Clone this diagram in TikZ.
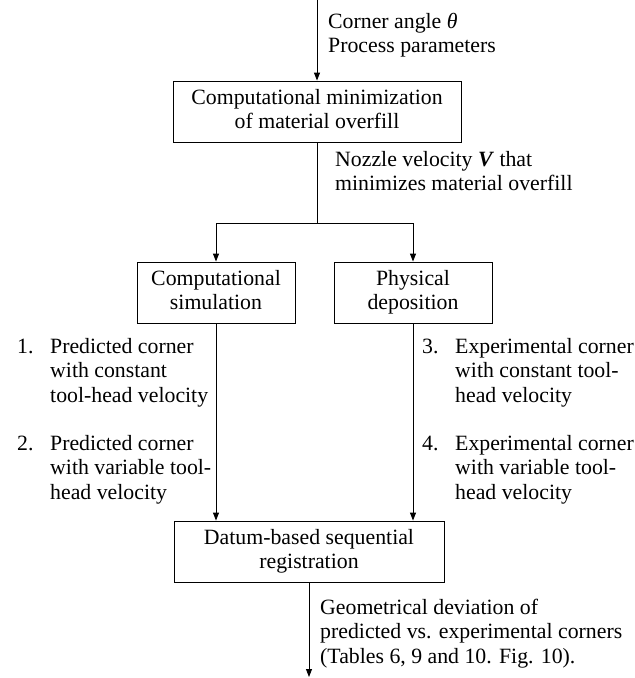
\documentclass[tikz,border=0pt]{standalone}
\usepackage{fontspec}
\setmainfont{Liberation Serif}
\usetikzlibrary{arrows.meta}
\begin{document}
\begin{tikzpicture}[x=1pt,y=-1pt,
  font=\fontsize{21.8}{24.8}\selectfont,
  box/.style={draw,line width=0.9pt,inner sep=0pt,align=center,minimum height=61pt},
  lbl/.style={anchor=base west,inner sep=0pt},
  arr/.style={line width=0.9pt,-{Triangle[length=8pt,width=6pt]}},
  ln/.style={line width=0.9pt}]
\useasboundingbox (0,0) rectangle (635,678);
% boxes
\node[box,minimum width=288pt] (b1) at (317,111.5) {\strut Computational minimization\\of material overfill\strut};
\node[box,minimum width=158pt] (b2) at (216,292.5) {\strut Computational\\simulation\strut};
\node[box,minimum width=158pt] (b3) at (413,292.5) {\strut Physical\\deposition\strut};
\node[box,minimum width=270pt] (b4) at (309,551.5) {\strut Datum-based sequential\\registration\strut};
% coordinates
\coordinate (top) at (317,0);
\coordinate (split) at (317,223);
\coordinate (out) at (309,677);
% connectors
\draw[arr] (top) -- (b1.north);
\draw[ln] (b1.south) -- (split);
\draw[arr] (split) -| (b2.north);
\draw[arr] (split) -| (b3.north);
\draw[arr] (b2.south) -- (b2.south |- b4.north);
\draw[arr] (b3.south) -- (b3.south |- b4.north);
\draw[arr] (b4.south) -- (out);
% labels
\node[lbl] (tin) at (328,28) {\begin{tabular}[t]{@{}l@{}}Corner angle \textit{θ}\\Process parameters\end{tabular}};
\node[lbl] (tnoz) at (335,166) {\begin{tabular}[t]{@{}l@{}}Nozzle velocity \textbf{\textit{V}} that\\minimizes material overfill\end{tabular}};
\node[lbl] (tout) at (320,614) {\begin{tabular}[t]{@{}l@{}}Geometrical deviation of\\predicted vs. experimental corners\\(Tables 6, 9 and 10. Fig. 10).\end{tabular}};
\node[lbl] (i1) at (17,353) {\begin{tabular}[t]{@{}p{33pt}@{}l@{}}1. & Predicted corner\\ & with constant\\ & tool-head velocity\end{tabular}};
\node[lbl] (i2) at (17,450) {\begin{tabular}[t]{@{}p{33pt}@{}l@{}}2. & Predicted corner\\ & with variable tool-\\ & head velocity\end{tabular}};
\node[lbl] (i3) at (422,353) {\begin{tabular}[t]{@{}p{33pt}@{}l@{}}3. & Experimental corner\\ & with constant tool-\\ & head velocity\end{tabular}};
\node[lbl] (i4) at (422,450) {\begin{tabular}[t]{@{}p{33pt}@{}l@{}}4. & Experimental corner\\ & with variable tool-\\ & head velocity\end{tabular}};
\end{tikzpicture}
\end{document}
